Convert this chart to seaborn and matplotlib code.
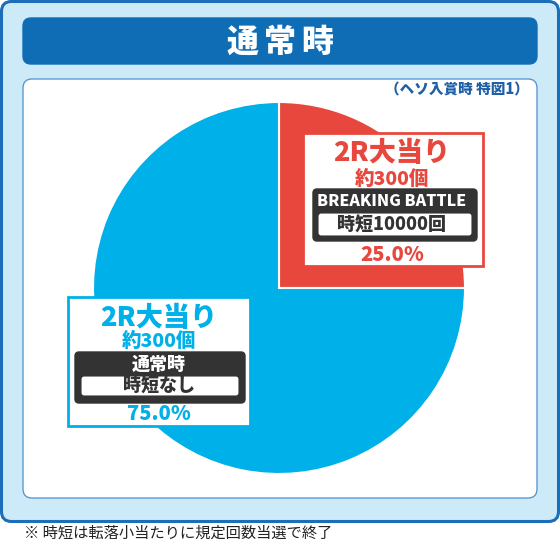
import matplotlib.pyplot as plt
import seaborn as sns
from matplotlib.patches import FancyBboxPatch, Rectangle

# data
labels = ["2R大当り", "2R大当り"]
payout = ["約300個", "約300個"]
modes = ["BREAKING BATTLE", "通常時"]
jitan = ["時短10000回", "時短なし"]
shares = [25.0, 75.0]
title = "通常時"
subtitle = "（ヘソ入賞時 特図1）"
footnote = "※ 時短は転落小当たりに規定回数当選で終了"

RED = "#e8473d"
BLUE = "#00b0e8"
DARK = "#333333"
NAVY = "#0f6db6"

sns.set_theme(style="white")
plt.rcParams['font.family'] = ['Noto Sans CJK JP', 'DejaVu Sans']

fig = plt.figure(figsize=(5.6, 5.43), dpi=100)
ax = fig.add_axes([0, 0, 1, 1])

def rbox(x, y, w, h, fc, ec, lw=1.0, r=8, z=1):
    ax.add_patch(FancyBboxPatch((x, y), w, h, boxstyle=f"round,pad=0,rounding_size={r}",
                                fc=fc, ec=ec, lw=lw, zorder=z))

# frames
rbox(1.5, 1.5, 557, 520, "#cdeaf8", "#1a6fb8", lw=2.2, r=10)
rbox(23, 18, 514, 46, NAVY, NAVY, r=8, z=2)
rbox(23, 79, 514, 419, "white", "#4f8fcf", lw=0.9, r=9, z=2)

# title drawn char by char for the wide letter spacing
for k, ch in enumerate(title):
    ax.text(243 + 37 * k, 42, ch, color="white", fontsize=23, fontweight="heavy",
            ha="center", va="center", zorder=3)
ax.text(529, 90, subtitle, color="#1f5fa6", fontsize=10.5, fontweight="heavy",
        ha="right", va="center", zorder=3)
ax.text(24, 533, footnote, color="#222222", fontsize=11, ha="left", va="center")

# pie (y axis is inverted, so counterclock here runs clockwise on screen)
wedges, _ = ax.pie(shares, colors=[RED, BLUE], startangle=-90, counterclock=True,
                   center=(279, 288), radius=186, frame=True,
                   wedgeprops=dict(edgecolor="white", linewidth=1.5))
for w in wedges:
    w.set_zorder(3)

# label boxes
boxes = [
    dict(x=303, y=133, w=180, h=133, col=RED, dark=(313, 189, 164, 52),
         inner=(318, 213, 154, 23), cx=392, ys=(153, 179, 202, 225, 255),
         sizes=(19.5, 14, 11.5, 13, 14.5)),
    dict(x=68, y=297, w=182, h=129, col=BLUE, dark=(75, 352, 170, 51),
         inner=(81, 376, 158, 20), cx=159, ys=(318, 341, 364, 386, 414),
         sizes=(19.5, 14, 13, 13, 14.5)),
]
for i, b in enumerate(boxes):
    ax.add_patch(Rectangle((b["x"], b["y"]), b["w"], b["h"], fc="white", ec=b["col"],
                           lw=2, zorder=4))
    rbox(*b["dark"], DARK, DARK, r=4, z=5)
    rbox(*b["inner"], "white", DARK, lw=0.8, r=3, z=6)
    y1, y2, y3, y4, y5 = b["ys"]
    s1, s2, s3, s4, s5 = b["sizes"]
    ax.text(b["cx"], y1, labels[i], color=b["col"], fontsize=s1, fontweight="heavy",
            ha="center", va="center", zorder=7)
    ax.text(b["cx"], y2, payout[i], color=b["col"], fontsize=s2, fontweight="heavy",
            ha="center", va="center", zorder=7)
    ax.text(b["cx"], y3, modes[i], color="white", fontsize=s3, fontweight="heavy",
            ha="center", va="center", zorder=7)
    ax.text(b["cx"], y4, jitan[i], color=DARK, fontsize=s4, fontweight="heavy",
            ha="center", va="center", zorder=7)
    ax.text(b["cx"], y5, f"{shares[i]:.1f}%", color=b["col"], fontsize=s5,
            fontweight="heavy", ha="center", va="center", zorder=7)

ax.set_xlim(0, 560)
ax.set_ylim(543, 0)
ax.set_aspect("auto")
ax.axis("off")

fig.savefig("out.png", dpi=100, facecolor="white")
